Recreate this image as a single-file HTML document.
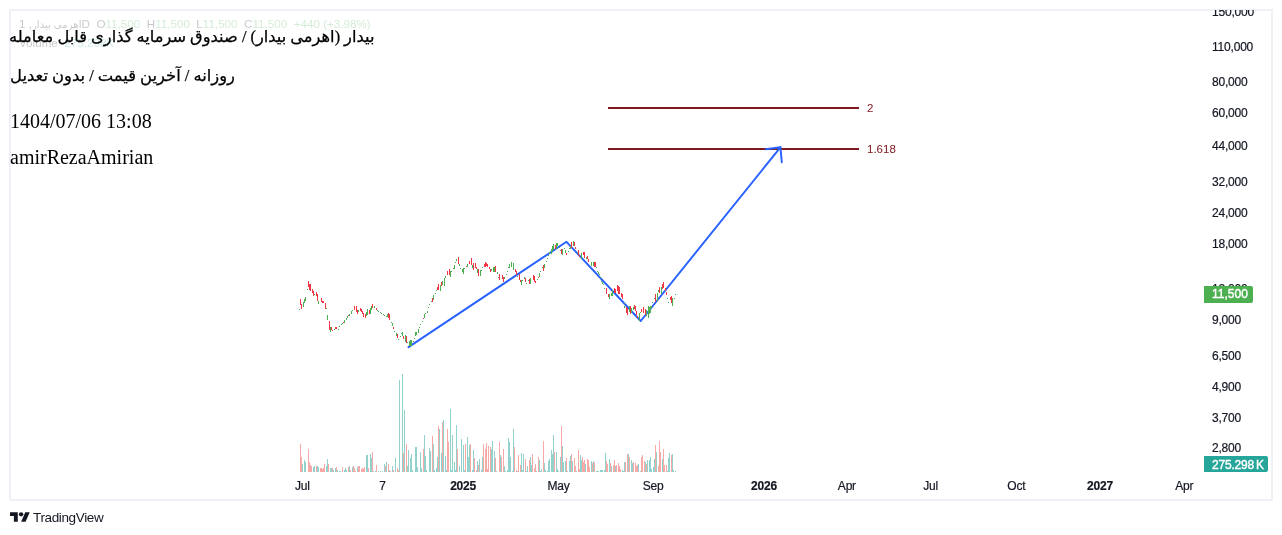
<!DOCTYPE html>
<html lang="fa">
<head>
<meta charset="utf-8">
<title>TradingView Chart</title>
<style>
html,body{margin:0;padding:0;background:#fff;}
body{width:1282px;height:535px;position:relative;overflow:hidden;font-family:"Liberation Sans","DejaVu Sans",sans-serif;}
.frame{position:absolute;left:9px;top:9px;width:1260px;height:488px;border:2px solid #eff1f7;box-sizing:content-box;overflow:hidden;}
.chart{position:absolute;left:0;top:0;}
.clip{position:absolute;left:0;top:10px;width:1282px;height:490px;overflow:hidden;}
.clip .inner{position:absolute;left:0;top:-10px;width:1282px;height:535px;}
.pl{-webkit-text-stroke:0.2px #131722;position:absolute;left:1212px;height:16px;line-height:16px;font-size:12px;letter-spacing:-0.2px;color:#131722;white-space:nowrap;}
.tl{-webkit-text-stroke:0.2px #131722;position:absolute;top:478px;width:60px;text-align:center;height:16px;line-height:16px;font-size:12px;letter-spacing:-0.2px;color:#131722;white-space:nowrap;}
.tl.b{font-weight:bold;}
.tag{position:absolute;left:1204px;color:#fff;font-size:12px;letter-spacing:-0.2px;font-weight:normal;-webkit-text-stroke:0.4px #fff;overflow:hidden;white-space:nowrap;box-sizing:border-box;padding-left:8px;}
.tag.price{letter-spacing:0;top:286px;width:49px;height:17px;line-height:17px;background:#4caf50;border-radius:0 2px 2px 0;}
.tag.vol{top:456px;width:64px;height:16px;line-height:16px;padding-top:1px;background:#26a69a;padding-left:8px;border-radius:0 2px 2px 0;}
.fib{position:absolute;font-size:11.5px;color:#801922;height:14px;line-height:14px;white-space:nowrap;}
.legend{position:absolute;left:19px;font-size:11.65px;color:#131722;opacity:.24;white-space:nowrap;height:16px;line-height:16px;}
.legend .g{color:#4caf50;}
.legend .t{color:#26a69a;}
.ttl{position:absolute;left:10px;margin:0;font-family:"Liberation Serif","DejaVu Sans",serif;color:#000;white-space:nowrap;}
.fa{direction:rtl;unicode-bidi:embed;font-size:16.35px;-webkit-text-stroke:0.25px #000;}
.en{font-size:20px;}
.logo{position:absolute;left:10px;top:508px;height:18px;display:flex;align-items:center;color:#131722;}
.logo span{font-size:13.5px;margin-left:3px;letter-spacing:-0.36px;}
</style>
</head>
<body>
<div class="frame"></div>
<div class="clip"><div class="inner">
<div class="legend" style="top:16px"><span style="font-size:10.2px">اهرمی بیدار</span>, 1D&nbsp; O<span class="g">11,500</span>&nbsp; H<span class="g">11,500</span>&nbsp; L<span class="g">11,500</span>&nbsp; C<span class="g">11,500</span>&nbsp; <span class="g">+440 (+3.98%)</span></div>
<div class="legend" style="top:35px">Volume&nbsp; <span class="t">275.298K</span></div>
<svg class="chart" width="1282" height="535" viewBox="0 0 1282 535">
<g shape-rendering="crispEdges">
<rect x="300" y="444" width="1" height="28" fill="#f7a9a7"/><rect x="301" y="457" width="1" height="15" fill="#f7a9a7"/><rect x="302" y="464" width="1" height="8" fill="#92d2cc"/><rect x="304" y="460" width="1" height="12" fill="#92d2cc"/><rect x="305" y="462" width="1" height="10" fill="#92d2cc"/><rect x="308" y="449" width="1" height="23" fill="#f7a9a7"/><rect x="309" y="462" width="1" height="10" fill="#f7a9a7"/><rect x="310" y="465" width="1" height="7" fill="#f7a9a7"/><rect x="311" y="466" width="1" height="6" fill="#f7a9a7"/><rect x="313" y="467" width="1" height="5" fill="#92d2cc"/><rect x="314" y="466" width="1" height="6" fill="#92d2cc"/><rect x="316" y="466" width="1" height="6" fill="#f7a9a7"/><rect x="317" y="466" width="1" height="6" fill="#92d2cc"/><rect x="318" y="467" width="1" height="5" fill="#92d2cc"/><rect x="320" y="468" width="1" height="4" fill="#f7a9a7"/><rect x="321" y="468" width="1" height="4" fill="#f7a9a7"/><rect x="322" y="469" width="1" height="3" fill="#f7a9a7"/><rect x="323" y="468" width="1" height="4" fill="#f7a9a7"/><rect x="324" y="464" width="1" height="8" fill="#f7a9a7"/><rect x="326" y="466" width="1" height="6" fill="#92d2cc"/><rect x="327" y="459" width="1" height="13" fill="#92d2cc"/><rect x="328" y="464" width="1" height="8" fill="#f7a9a7"/><rect x="330" y="468" width="1" height="4" fill="#92d2cc"/><rect x="331" y="468" width="1" height="4" fill="#92d2cc"/><rect x="332" y="468" width="1" height="4" fill="#f7a9a7"/><rect x="333" y="470" width="1" height="2" fill="#92d2cc"/><rect x="335" y="468" width="1" height="4" fill="#92d2cc"/><rect x="336" y="467" width="1" height="5" fill="#f7a9a7"/><rect x="337" y="470" width="1" height="2" fill="#92d2cc"/><rect x="339" y="471" width="1" height="1" fill="#92d2cc"/><rect x="340" y="471" width="1" height="1" fill="#92d2cc"/><rect x="342" y="467" width="1" height="5" fill="#f7a9a7"/><rect x="344" y="470" width="1" height="2" fill="#92d2cc"/><rect x="345" y="468" width="1" height="4" fill="#92d2cc"/><rect x="346" y="470" width="1" height="2" fill="#92d2cc"/><rect x="348" y="467" width="1" height="5" fill="#f7a9a7"/><rect x="349" y="466" width="1" height="6" fill="#92d2cc"/><rect x="350" y="470" width="1" height="2" fill="#f7a9a7"/><rect x="352" y="467" width="1" height="5" fill="#92d2cc"/><rect x="353" y="466" width="1" height="6" fill="#f7a9a7"/><rect x="354" y="468" width="1" height="4" fill="#f7a9a7"/><rect x="355" y="471" width="1" height="1" fill="#f7a9a7"/><rect x="357" y="467" width="1" height="5" fill="#92d2cc"/><rect x="358" y="466" width="1" height="6" fill="#f7a9a7"/><rect x="359" y="466" width="1" height="6" fill="#f7a9a7"/><rect x="361" y="469" width="1" height="3" fill="#f7a9a7"/><rect x="362" y="468" width="1" height="4" fill="#f7a9a7"/><rect x="363" y="469" width="1" height="3" fill="#f7a9a7"/><rect x="364" y="467" width="1" height="5" fill="#f7a9a7"/><rect x="366" y="455" width="1" height="17" fill="#92d2cc"/><rect x="367" y="455" width="1" height="17" fill="#92d2cc"/><rect x="368" y="468" width="1" height="4" fill="#f7a9a7"/><rect x="370" y="454" width="1" height="18" fill="#92d2cc"/><rect x="371" y="458" width="1" height="14" fill="#92d2cc"/><rect x="372" y="452" width="1" height="20" fill="#f7a9a7"/><rect x="373" y="471" width="1" height="1" fill="#92d2cc"/><rect x="375" y="471" width="1" height="1" fill="#92d2cc"/><rect x="376" y="465" width="1" height="7" fill="#f7a9a7"/><rect x="378" y="471" width="1" height="1" fill="#92d2cc"/><rect x="380" y="471" width="1" height="1" fill="#92d2cc"/><rect x="382" y="471" width="1" height="1" fill="#92d2cc"/><rect x="384" y="464" width="1" height="8" fill="#92d2cc"/><rect x="385" y="466" width="1" height="6" fill="#f7a9a7"/><rect x="386" y="462" width="1" height="10" fill="#92d2cc"/><rect x="388" y="464" width="1" height="8" fill="#f7a9a7"/><rect x="389" y="470" width="1" height="2" fill="#92d2cc"/><rect x="390" y="471" width="1" height="1" fill="#f7a9a7"/><rect x="392" y="466" width="1" height="6" fill="#92d2cc"/><rect x="393" y="470" width="1" height="2" fill="#f7a9a7"/><rect x="395" y="458" width="1" height="14" fill="#92d2cc"/><rect x="397" y="468" width="1" height="4" fill="#f7a9a7"/><rect x="398" y="470" width="1" height="2" fill="#f7a9a7"/><rect x="399" y="380" width="1" height="92" fill="#92d2cc"/><rect x="402" y="374" width="1" height="98" fill="#92d2cc"/><rect x="403" y="453" width="1" height="19" fill="#f7a9a7"/><rect x="404" y="410" width="1" height="62" fill="#92d2cc"/><rect x="406" y="444" width="1" height="28" fill="#f7a9a7"/><rect x="407" y="466" width="1" height="6" fill="#92d2cc"/><rect x="408" y="450" width="1" height="22" fill="#92d2cc"/><rect x="410" y="458" width="1" height="14" fill="#92d2cc"/><rect x="411" y="454" width="1" height="18" fill="#92d2cc"/><rect x="412" y="470" width="1" height="2" fill="#92d2cc"/><rect x="415" y="447" width="1" height="25" fill="#92d2cc"/><rect x="416" y="447" width="1" height="25" fill="#92d2cc"/><rect x="417" y="467" width="1" height="5" fill="#92d2cc"/><rect x="420" y="452" width="1" height="20" fill="#92d2cc"/><rect x="421" y="468" width="1" height="4" fill="#92d2cc"/><rect x="423" y="449" width="1" height="23" fill="#f7a9a7"/><rect x="424" y="435" width="1" height="37" fill="#92d2cc"/><rect x="425" y="456" width="1" height="16" fill="#92d2cc"/><rect x="426" y="470" width="1" height="2" fill="#92d2cc"/><rect x="429" y="448" width="1" height="24" fill="#92d2cc"/><rect x="430" y="451" width="1" height="21" fill="#92d2cc"/><rect x="432" y="436" width="1" height="36" fill="#f7a9a7"/><rect x="433" y="444" width="1" height="28" fill="#92d2cc"/><rect x="434" y="470" width="1" height="2" fill="#92d2cc"/><rect x="436" y="468" width="1" height="4" fill="#92d2cc"/><rect x="437" y="457" width="1" height="15" fill="#92d2cc"/><rect x="438" y="426" width="1" height="46" fill="#f7a9a7"/><rect x="439" y="429" width="1" height="43" fill="#92d2cc"/><rect x="441" y="453" width="1" height="19" fill="#92d2cc"/><rect x="442" y="422" width="1" height="50" fill="#f7a9a7"/><rect x="443" y="420" width="1" height="52" fill="#92d2cc"/><rect x="445" y="456" width="1" height="16" fill="#92d2cc"/><rect x="446" y="470" width="1" height="2" fill="#92d2cc"/><rect x="447" y="429" width="1" height="43" fill="#f7a9a7"/><rect x="448" y="442" width="1" height="30" fill="#f7a9a7"/><rect x="450" y="409" width="1" height="63" fill="#92d2cc"/><rect x="451" y="470" width="1" height="2" fill="#92d2cc"/><rect x="452" y="435" width="1" height="37" fill="#92d2cc"/><rect x="454" y="462" width="1" height="10" fill="#92d2cc"/><rect x="455" y="470" width="1" height="2" fill="#92d2cc"/><rect x="456" y="425" width="1" height="47" fill="#92d2cc"/><rect x="457" y="449" width="1" height="23" fill="#f7a9a7"/><rect x="459" y="466" width="1" height="6" fill="#92d2cc"/><rect x="461" y="439" width="1" height="33" fill="#92d2cc"/><rect x="463" y="445" width="1" height="27" fill="#92d2cc"/><rect x="464" y="470" width="1" height="2" fill="#92d2cc"/><rect x="465" y="444" width="1" height="28" fill="#f7a9a7"/><rect x="467" y="437" width="1" height="35" fill="#92d2cc"/><rect x="468" y="457" width="1" height="15" fill="#92d2cc"/><rect x="469" y="445" width="1" height="27" fill="#92d2cc"/><rect x="470" y="444" width="1" height="28" fill="#f7a9a7"/><rect x="472" y="470" width="1" height="2" fill="#92d2cc"/><rect x="473" y="450" width="1" height="22" fill="#92d2cc"/><rect x="474" y="458" width="1" height="14" fill="#f7a9a7"/><rect x="476" y="470" width="1" height="2" fill="#f7a9a7"/><rect x="477" y="461" width="1" height="11" fill="#92d2cc"/><rect x="478" y="465" width="1" height="7" fill="#f7a9a7"/><rect x="479" y="459" width="1" height="13" fill="#92d2cc"/><rect x="481" y="470" width="1" height="2" fill="#92d2cc"/><rect x="482" y="457" width="1" height="15" fill="#92d2cc"/><rect x="483" y="444" width="1" height="28" fill="#f7a9a7"/><rect x="485" y="449" width="1" height="23" fill="#f7a9a7"/><rect x="486" y="443" width="1" height="29" fill="#f7a9a7"/><rect x="487" y="469" width="1" height="3" fill="#f7a9a7"/><rect x="488" y="446" width="1" height="26" fill="#f7a9a7"/><rect x="490" y="447" width="1" height="25" fill="#f7a9a7"/><rect x="491" y="449" width="1" height="23" fill="#92d2cc"/><rect x="492" y="441" width="1" height="31" fill="#92d2cc"/><rect x="494" y="451" width="1" height="21" fill="#92d2cc"/><rect x="495" y="458" width="1" height="14" fill="#f7a9a7"/><rect x="496" y="471" width="1" height="1" fill="#92d2cc"/><rect x="499" y="442" width="1" height="30" fill="#f7a9a7"/><rect x="500" y="455" width="1" height="17" fill="#92d2cc"/><rect x="501" y="457" width="1" height="15" fill="#f7a9a7"/><rect x="503" y="449" width="1" height="23" fill="#f7a9a7"/><rect x="504" y="466" width="1" height="6" fill="#92d2cc"/><rect x="505" y="471" width="1" height="1" fill="#92d2cc"/><rect x="507" y="470" width="1" height="2" fill="#92d2cc"/><rect x="508" y="438" width="1" height="34" fill="#92d2cc"/><rect x="509" y="442" width="1" height="30" fill="#92d2cc"/><rect x="510" y="457" width="1" height="15" fill="#92d2cc"/><rect x="512" y="471" width="1" height="1" fill="#92d2cc"/><rect x="513" y="429" width="1" height="43" fill="#92d2cc"/><rect x="514" y="447" width="1" height="25" fill="#f7a9a7"/><rect x="516" y="470" width="1" height="2" fill="#f7a9a7"/><rect x="517" y="471" width="1" height="1" fill="#92d2cc"/><rect x="518" y="455" width="1" height="17" fill="#f7a9a7"/><rect x="520" y="465" width="1" height="7" fill="#f7a9a7"/><rect x="521" y="453" width="1" height="19" fill="#92d2cc"/><rect x="522" y="470" width="1" height="2" fill="#92d2cc"/><rect x="523" y="454" width="1" height="18" fill="#92d2cc"/><rect x="525" y="459" width="1" height="13" fill="#f7a9a7"/><rect x="526" y="471" width="1" height="1" fill="#92d2cc"/><rect x="527" y="466" width="1" height="6" fill="#92d2cc"/><rect x="529" y="460" width="1" height="12" fill="#f7a9a7"/><rect x="530" y="457" width="1" height="15" fill="#92d2cc"/><rect x="531" y="465" width="1" height="7" fill="#92d2cc"/><rect x="532" y="454" width="1" height="18" fill="#f7a9a7"/><rect x="534" y="468" width="1" height="4" fill="#f7a9a7"/><rect x="535" y="464" width="1" height="8" fill="#f7a9a7"/><rect x="536" y="471" width="1" height="1" fill="#92d2cc"/><rect x="538" y="457" width="1" height="15" fill="#f7a9a7"/><rect x="539" y="460" width="1" height="12" fill="#92d2cc"/><rect x="540" y="471" width="1" height="1" fill="#92d2cc"/><rect x="541" y="469" width="1" height="3" fill="#92d2cc"/><rect x="543" y="441" width="1" height="31" fill="#f7a9a7"/><rect x="544" y="463" width="1" height="9" fill="#92d2cc"/><rect x="545" y="470" width="1" height="2" fill="#92d2cc"/><rect x="547" y="471" width="1" height="1" fill="#92d2cc"/><rect x="548" y="461" width="1" height="11" fill="#92d2cc"/><rect x="549" y="459" width="1" height="13" fill="#92d2cc"/><rect x="551" y="450" width="1" height="22" fill="#92d2cc"/><rect x="552" y="454" width="1" height="18" fill="#92d2cc"/><rect x="553" y="435" width="1" height="37" fill="#92d2cc"/><rect x="554" y="452" width="1" height="20" fill="#f7a9a7"/><rect x="556" y="452" width="1" height="20" fill="#92d2cc"/><rect x="557" y="469" width="1" height="3" fill="#92d2cc"/><rect x="558" y="471" width="1" height="1" fill="#92d2cc"/><rect x="560" y="457" width="1" height="15" fill="#92d2cc"/><rect x="561" y="426" width="1" height="46" fill="#f7a9a7"/><rect x="562" y="446" width="1" height="26" fill="#92d2cc"/><rect x="563" y="462" width="1" height="10" fill="#92d2cc"/><rect x="565" y="461" width="1" height="11" fill="#92d2cc"/><rect x="566" y="458" width="1" height="14" fill="#f7a9a7"/><rect x="567" y="471" width="1" height="1" fill="#92d2cc"/><rect x="569" y="461" width="1" height="11" fill="#92d2cc"/><rect x="570" y="456" width="1" height="16" fill="#92d2cc"/><rect x="571" y="454" width="1" height="18" fill="#f7a9a7"/><rect x="572" y="461" width="1" height="11" fill="#92d2cc"/><rect x="574" y="458" width="1" height="14" fill="#f7a9a7"/><rect x="575" y="466" width="1" height="6" fill="#f7a9a7"/><rect x="576" y="471" width="1" height="1" fill="#92d2cc"/><rect x="578" y="450" width="1" height="22" fill="#f7a9a7"/><rect x="579" y="469" width="1" height="3" fill="#f7a9a7"/><rect x="580" y="455" width="1" height="17" fill="#92d2cc"/><rect x="581" y="460" width="1" height="12" fill="#92d2cc"/><rect x="582" y="457" width="1" height="15" fill="#f7a9a7"/><rect x="583" y="462" width="1" height="10" fill="#f7a9a7"/><rect x="584" y="460" width="1" height="12" fill="#f7a9a7"/><rect x="585" y="464" width="1" height="8" fill="#92d2cc"/><rect x="587" y="459" width="1" height="13" fill="#f7a9a7"/><rect x="588" y="460" width="1" height="12" fill="#f7a9a7"/><rect x="589" y="467" width="1" height="5" fill="#f7a9a7"/><rect x="591" y="461" width="1" height="11" fill="#92d2cc"/><rect x="592" y="463" width="1" height="9" fill="#f7a9a7"/><rect x="593" y="461" width="1" height="11" fill="#92d2cc"/><rect x="594" y="462" width="1" height="10" fill="#f7a9a7"/><rect x="596" y="471" width="1" height="1" fill="#92d2cc"/><rect x="597" y="471" width="1" height="1" fill="#92d2cc"/><rect x="598" y="471" width="1" height="1" fill="#92d2cc"/><rect x="600" y="470" width="1" height="2" fill="#92d2cc"/><rect x="601" y="470" width="1" height="2" fill="#92d2cc"/><rect x="602" y="470" width="1" height="2" fill="#92d2cc"/><rect x="604" y="470" width="1" height="2" fill="#92d2cc"/><rect x="605" y="453" width="1" height="19" fill="#92d2cc"/><rect x="606" y="461" width="1" height="11" fill="#f7a9a7"/><rect x="607" y="464" width="1" height="8" fill="#f7a9a7"/><rect x="609" y="459" width="1" height="13" fill="#92d2cc"/><rect x="610" y="463" width="1" height="9" fill="#f7a9a7"/><rect x="611" y="466" width="1" height="6" fill="#92d2cc"/><rect x="613" y="465" width="1" height="7" fill="#f7a9a7"/><rect x="614" y="460" width="1" height="12" fill="#f7a9a7"/><rect x="615" y="466" width="1" height="6" fill="#92d2cc"/><rect x="616" y="465" width="1" height="7" fill="#f7a9a7"/><rect x="618" y="463" width="1" height="9" fill="#f7a9a7"/><rect x="619" y="466" width="1" height="6" fill="#f7a9a7"/><rect x="620" y="469" width="1" height="3" fill="#f7a9a7"/><rect x="622" y="470" width="1" height="2" fill="#92d2cc"/><rect x="623" y="471" width="1" height="1" fill="#92d2cc"/><rect x="624" y="462" width="1" height="10" fill="#92d2cc"/><rect x="625" y="462" width="1" height="10" fill="#f7a9a7"/><rect x="627" y="454" width="1" height="18" fill="#f7a9a7"/><rect x="628" y="454" width="1" height="18" fill="#92d2cc"/><rect x="629" y="457" width="1" height="15" fill="#f7a9a7"/><rect x="631" y="460" width="1" height="12" fill="#92d2cc"/><rect x="632" y="463" width="1" height="9" fill="#92d2cc"/><rect x="633" y="462" width="1" height="10" fill="#f7a9a7"/><rect x="635" y="463" width="1" height="9" fill="#f7a9a7"/><rect x="636" y="466" width="1" height="6" fill="#f7a9a7"/><rect x="637" y="465" width="1" height="7" fill="#f7a9a7"/><rect x="638" y="464" width="1" height="8" fill="#92d2cc"/><rect x="640" y="471" width="1" height="1" fill="#92d2cc"/><rect x="641" y="457" width="1" height="15" fill="#f7a9a7"/><rect x="642" y="455" width="1" height="17" fill="#f7a9a7"/><rect x="644" y="461" width="1" height="11" fill="#f7a9a7"/><rect x="645" y="462" width="1" height="10" fill="#92d2cc"/><rect x="646" y="464" width="1" height="8" fill="#f7a9a7"/><rect x="647" y="460" width="1" height="12" fill="#92d2cc"/><rect x="649" y="460" width="1" height="12" fill="#92d2cc"/><rect x="650" y="457" width="1" height="15" fill="#92d2cc"/><rect x="651" y="469" width="1" height="3" fill="#92d2cc"/><rect x="653" y="467" width="1" height="5" fill="#92d2cc"/><rect x="654" y="459" width="1" height="13" fill="#92d2cc"/><rect x="655" y="445" width="1" height="27" fill="#f7a9a7"/><rect x="656" y="452" width="1" height="20" fill="#92d2cc"/><rect x="658" y="466" width="1" height="6" fill="#f7a9a7"/><rect x="659" y="441" width="1" height="31" fill="#f7a9a7"/><rect x="660" y="452" width="1" height="20" fill="#f7a9a7"/><rect x="662" y="459" width="1" height="13" fill="#92d2cc"/><rect x="663" y="449" width="1" height="23" fill="#f7a9a7"/><rect x="664" y="465" width="1" height="7" fill="#f7a9a7"/><rect x="666" y="465" width="1" height="7" fill="#f7a9a7"/><rect x="667" y="471" width="1" height="1" fill="#92d2cc"/><rect x="668" y="458" width="1" height="14" fill="#92d2cc"/><rect x="669" y="453" width="1" height="19" fill="#92d2cc"/><rect x="671" y="455" width="1" height="17" fill="#f7a9a7"/><rect x="672" y="454" width="1" height="18" fill="#92d2cc"/><rect x="673" y="470" width="1" height="2" fill="#92d2cc"/><rect x="675" y="471" width="1" height="1" fill="#92d2cc"/>
</g>
<g shape-rendering="crispEdges" fill="#801922">
<rect x="608" y="107" width="251" height="2"/>
<rect x="608" y="148" width="251" height="2"/>
</g>
<g fill="none" stroke="#2962ff" stroke-width="1.95" stroke-linecap="round" stroke-linejoin="round">
<polyline points="408.5,347.1 566.5,241.8 640.7,321 780.4,147.3"/>
<polyline points="765.8,149.3 780.4,147.3 781.8,162.2"/>
</g>
<g shape-rendering="crispEdges">
<rect x="299" y="309" width="1" height="1" fill="#4caf50"/><rect x="300" y="299" width="1" height="6" fill="#f23645"/><rect x="301" y="304" width="1" height="5" fill="#f23645"/><rect x="303" y="302" width="1" height="5" fill="#4caf50"/><rect x="304" y="299" width="1" height="4" fill="#4caf50"/><rect x="305" y="297" width="1" height="4" fill="#4caf50"/><rect x="307" y="289" width="1" height="1" fill="#4caf50"/><rect x="591" y="262" width="1" height="4" fill="#4caf50"/><rect x="593" y="262" width="1" height="4" fill="#4caf50"/><rect x="594" y="262" width="1" height="5" fill="#f23645"/><rect x="595" y="262" width="1" height="5" fill="#f23645"/><rect x="606" y="288" width="1" height="6" fill="#f23645"/><rect x="608" y="294" width="1" height="3" fill="#f23645"/><rect x="609" y="294" width="1" height="5" fill="#4caf50"/><rect x="611" y="293" width="1" height="3" fill="#4caf50"/><rect x="612" y="290" width="1" height="6" fill="#4caf50"/><rect x="614" y="288" width="1" height="5" fill="#f23645"/><rect x="615" y="289" width="1" height="4" fill="#f23645"/><rect x="617" y="285" width="1" height="6" fill="#f23645"/><rect x="618" y="286" width="1" height="8" fill="#f23645"/><rect x="619" y="287" width="1" height="7" fill="#f23645"/><rect x="621" y="293" width="1" height="4" fill="#f23645"/><rect x="622" y="294" width="1" height="5" fill="#f23645"/><rect x="624" y="303" width="1" height="1" fill="#4caf50"/><rect x="624" y="306" width="1" height="2" fill="#4caf50"/><rect x="626" y="307" width="1" height="6" fill="#f23645"/><rect x="627" y="308" width="1" height="7" fill="#f23645"/><rect x="629" y="306" width="1" height="6" fill="#4caf50"/><rect x="630" y="306" width="1" height="8" fill="#f23645"/><rect x="631" y="308" width="1" height="5" fill="#4caf50"/><rect x="633" y="307" width="1" height="3" fill="#4caf50"/><rect x="634" y="305" width="1" height="4" fill="#f23645"/><rect x="635" y="306" width="1" height="5" fill="#f23645"/><rect x="636" y="311" width="1" height="4" fill="#f23645"/><rect x="637" y="316" width="1" height="2" fill="#f23645"/><rect x="639" y="313" width="1" height="8" fill="#4caf50"/><rect x="640" y="312" width="1" height="1" fill="#4caf50"/><rect x="641" y="309" width="1" height="3" fill="#f23645"/><rect x="643" y="307" width="1" height="6" fill="#f23645"/><rect x="645" y="309" width="1" height="6" fill="#f23645"/><rect x="646" y="310" width="1" height="6" fill="#4caf50"/><rect x="648" y="306" width="1" height="12" fill="#4caf50"/><rect x="649" y="307" width="1" height="7" fill="#4caf50"/><rect x="650" y="306" width="1" height="7" fill="#4caf50"/><rect x="651" y="306" width="1" height="2" fill="#4caf50"/><rect x="652" y="302" width="1" height="1" fill="#4caf50"/><rect x="654" y="298" width="1" height="1" fill="#4caf50"/><rect x="655" y="294" width="1" height="8" fill="#f23645"/><rect x="657" y="293" width="1" height="8" fill="#4caf50"/><rect x="658" y="290" width="1" height="2" fill="#4caf50"/><rect x="659" y="287" width="1" height="6" fill="#f23645"/><rect x="661" y="287" width="1" height="7" fill="#4caf50"/><rect x="662" y="284" width="1" height="5" fill="#f23645"/><rect x="663" y="282" width="1" height="6" fill="#f23645"/><rect x="665" y="288" width="1" height="3" fill="#f23645"/><rect x="666" y="292" width="1" height="3" fill="#f23645"/><rect x="667" y="298" width="1" height="1" fill="#4caf50"/><rect x="668" y="302" width="1" height="1" fill="#4caf50"/><rect x="670" y="297" width="1" height="3" fill="#f23645"/><rect x="671" y="296" width="1" height="7" fill="#f23645"/><rect x="672" y="298" width="1" height="8" fill="#4caf50"/><rect x="674" y="298" width="1" height="1" fill="#4caf50"/><rect x="675" y="294" width="1" height="1" fill="#4caf50"/><rect x="391" y="322" width="1" height="1" fill="#4caf50"/><rect x="392" y="323" width="1" height="3" fill="#4caf50"/><rect x="393" y="327" width="1" height="2" fill="#f23645"/><rect x="394" y="331" width="1" height="1" fill="#4caf50"/><rect x="396" y="333" width="1" height="3" fill="#4caf50"/><rect x="397" y="334" width="1" height="4" fill="#f23645"/><rect x="398" y="339" width="1" height="1" fill="#4caf50"/><rect x="400" y="336" width="1" height="1" fill="#4caf50"/><rect x="401" y="333" width="1" height="1" fill="#4caf50"/><rect x="402" y="332" width="1" height="4" fill="#4caf50"/><rect x="403" y="336" width="1" height="3" fill="#f23645"/><rect x="405" y="335" width="1" height="7" fill="#4caf50"/><rect x="406" y="336" width="1" height="7" fill="#f23645"/><rect x="407" y="342" width="1" height="1" fill="#4caf50"/><rect x="409" y="341" width="1" height="5" fill="#4caf50"/><rect x="410" y="340" width="1" height="6" fill="#4caf50"/><rect x="411" y="340" width="1" height="6" fill="#4caf50"/><rect x="413" y="341" width="1" height="1" fill="#4caf50"/><rect x="414" y="338" width="1" height="1" fill="#4caf50"/><rect x="415" y="332" width="1" height="4" fill="#4caf50"/><rect x="416" y="332" width="1" height="3" fill="#4caf50"/><rect x="418" y="329" width="1" height="4" fill="#4caf50"/><rect x="419" y="327" width="1" height="1" fill="#4caf50"/><rect x="308" y="281" width="1" height="6" fill="#f23645"/><rect x="309" y="284" width="1" height="6" fill="#f23645"/><rect x="310" y="284" width="1" height="7" fill="#f23645"/><rect x="312" y="289" width="1" height="4" fill="#f23645"/><rect x="313" y="291" width="1" height="5" fill="#f23645"/><rect x="314" y="294" width="1" height="1" fill="#4caf50"/><rect x="316" y="292" width="1" height="4" fill="#f23645"/><rect x="317" y="294" width="1" height="7" fill="#f23645"/><rect x="318" y="301" width="1" height="3" fill="#4caf50"/><rect x="321" y="298" width="1" height="4" fill="#f23645"/><rect x="322" y="301" width="1" height="2" fill="#f23645"/><rect x="323" y="301" width="1" height="2" fill="#f23645"/><rect x="325" y="303" width="1" height="6" fill="#f23645"/><rect x="326" y="308" width="1" height="1" fill="#4caf50"/><rect x="327" y="315" width="1" height="5" fill="#4caf50"/><rect x="329" y="321" width="1" height="9" fill="#f23645"/><rect x="330" y="327" width="1" height="5" fill="#4caf50"/><rect x="331" y="327" width="1" height="3" fill="#f23645"/><rect x="332" y="330" width="1" height="1" fill="#f23645"/><rect x="334" y="329" width="1" height="1" fill="#4caf50"/><rect x="335" y="327" width="1" height="2" fill="#f23645"/><rect x="336" y="327" width="1" height="2" fill="#f23645"/><rect x="338" y="329" width="1" height="1" fill="#4caf50"/><rect x="339" y="326" width="1" height="1" fill="#4caf50"/><rect x="341" y="324" width="1" height="1" fill="#4caf50"/><rect x="342" y="323" width="1" height="1" fill="#4caf50"/><rect x="343" y="322" width="1" height="1" fill="#f23645"/><rect x="344" y="320" width="1" height="3" fill="#4caf50"/><rect x="346" y="318" width="1" height="2" fill="#4caf50"/><rect x="347" y="316" width="1" height="2" fill="#4caf50"/><rect x="348" y="315" width="1" height="1" fill="#f23645"/><rect x="349" y="314" width="1" height="2" fill="#4caf50"/><rect x="351" y="311" width="1" height="3" fill="#4caf50"/><rect x="352" y="310" width="1" height="1" fill="#4caf50"/><rect x="354" y="307" width="1" height="3" fill="#f23645"/><rect x="354" y="306" width="1" height="4" fill="#f23645"/><rect x="356" y="306" width="1" height="6" fill="#f23645"/><rect x="357" y="310" width="1" height="4" fill="#f23645"/><rect x="358" y="310" width="1" height="2" fill="#4caf50"/><rect x="360" y="308" width="1" height="3" fill="#f23645"/><rect x="361" y="309" width="1" height="3" fill="#f23645"/><rect x="362" y="311" width="1" height="3" fill="#f23645"/><rect x="363" y="313" width="1" height="4" fill="#f23645"/><rect x="365" y="314" width="1" height="4" fill="#f23645"/><rect x="366" y="312" width="1" height="4" fill="#4caf50"/><rect x="367" y="309" width="1" height="6" fill="#4caf50"/><rect x="369" y="310" width="1" height="4" fill="#f23645"/><rect x="370" y="308" width="1" height="6" fill="#4caf50"/><rect x="371" y="306" width="1" height="4" fill="#4caf50"/><rect x="372" y="304" width="1" height="4" fill="#f23645"/><rect x="374" y="306" width="1" height="2" fill="#4caf50"/><rect x="376" y="308" width="1" height="2" fill="#f23645"/><rect x="387" y="314" width="1" height="3" fill="#4caf50"/><rect x="388" y="313" width="1" height="5" fill="#f23645"/><rect x="389" y="314" width="1" height="6" fill="#f23645"/><rect x="377" y="310" width="1" height="1" fill="#4caf50"/><rect x="378" y="311" width="1" height="1" fill="#4caf50"/><rect x="380" y="312" width="1" height="1" fill="#4caf50"/><rect x="381" y="313" width="1" height="1" fill="#4caf50"/><rect x="383" y="314" width="1" height="1" fill="#4caf50"/><rect x="384" y="315" width="1" height="1" fill="#4caf50"/><rect x="386" y="316" width="1" height="1" fill="#4caf50"/><rect x="420" y="324" width="1" height="1" fill="#4caf50"/><rect x="422" y="321" width="1" height="1" fill="#4caf50"/><rect x="423" y="318" width="1" height="1" fill="#f23645"/><rect x="424" y="314" width="1" height="4" fill="#4caf50"/><rect x="425" y="313" width="1" height="1" fill="#4caf50"/><rect x="427" y="311" width="1" height="2" fill="#4caf50"/><rect x="428" y="307" width="1" height="1" fill="#4caf50"/><rect x="429" y="304" width="1" height="1" fill="#4caf50"/><rect x="431" y="301" width="1" height="1" fill="#4caf50"/><rect x="432" y="298" width="1" height="4" fill="#f23645"/><rect x="433" y="295" width="1" height="5" fill="#4caf50"/><rect x="435" y="293" width="1" height="1" fill="#4caf50"/><rect x="436" y="290" width="1" height="1" fill="#4caf50"/><rect x="437" y="287" width="1" height="3" fill="#f23645"/><rect x="438" y="284" width="1" height="6" fill="#f23645"/><rect x="440" y="285" width="1" height="6" fill="#4caf50"/><rect x="441" y="282" width="1" height="4" fill="#f23645"/><rect x="442" y="281" width="1" height="4" fill="#4caf50"/><rect x="444" y="278" width="1" height="8" fill="#4caf50"/><rect x="445" y="276" width="1" height="2" fill="#4caf50"/><rect x="447" y="271" width="1" height="4" fill="#f23645"/><rect x="449" y="269" width="1" height="6" fill="#f23645"/><rect x="450" y="271" width="1" height="6" fill="#4caf50"/><rect x="451" y="271" width="1" height="1" fill="#4caf50"/><rect x="453" y="268" width="1" height="1" fill="#4caf50"/><rect x="454" y="265" width="1" height="4" fill="#4caf50"/><rect x="455" y="262" width="1" height="1" fill="#4caf50"/><rect x="456" y="259" width="1" height="2" fill="#4caf50"/><rect x="458" y="257" width="1" height="7" fill="#f23645"/><rect x="459" y="264" width="1" height="2" fill="#4caf50"/><rect x="460" y="268" width="1" height="1" fill="#4caf50"/><rect x="462" y="269" width="1" height="3" fill="#4caf50"/><rect x="463" y="268" width="1" height="6" fill="#4caf50"/><rect x="464" y="268" width="1" height="1" fill="#4caf50"/><rect x="466" y="266" width="1" height="1" fill="#f23645"/><rect x="467" y="264" width="1" height="3" fill="#4caf50"/><rect x="469" y="262" width="1" height="1" fill="#4caf50"/><rect x="469" y="261" width="1" height="3" fill="#f23645"/><rect x="471" y="258" width="1" height="7" fill="#f23645"/><rect x="472" y="265" width="1" height="3" fill="#4caf50"/><rect x="473" y="263" width="1" height="7" fill="#f23645"/><rect x="546" y="261" width="1" height="1" fill="#4caf50"/><rect x="547" y="258" width="1" height="1" fill="#4caf50"/><rect x="548" y="255" width="1" height="1" fill="#4caf50"/><rect x="549" y="252" width="1" height="2" fill="#4caf50"/><rect x="551" y="249" width="1" height="5" fill="#4caf50"/><rect x="552" y="246" width="1" height="5" fill="#4caf50"/><rect x="553" y="244" width="1" height="6" fill="#4caf50"/><rect x="555" y="245" width="1" height="4" fill="#f23645"/><rect x="556" y="243" width="1" height="6" fill="#4caf50"/><rect x="557" y="243" width="1" height="3" fill="#4caf50"/><rect x="559" y="247" width="1" height="1" fill="#4caf50"/><rect x="560" y="250" width="1" height="1" fill="#4caf50"/><rect x="561" y="249" width="1" height="5" fill="#f23645"/><rect x="562" y="249" width="1" height="6" fill="#4caf50"/><rect x="564" y="248" width="1" height="1" fill="#4caf50"/><rect x="565" y="250" width="1" height="3" fill="#4caf50"/><rect x="566" y="253" width="1" height="2" fill="#f23645"/><rect x="568" y="251" width="1" height="1" fill="#4caf50"/><rect x="569" y="248" width="1" height="1" fill="#4caf50"/><rect x="570" y="246" width="1" height="3" fill="#4caf50"/><rect x="571" y="242" width="1" height="6" fill="#f23645"/><rect x="573" y="241" width="1" height="5" fill="#4caf50"/><rect x="574" y="242" width="1" height="4" fill="#f23645"/><rect x="575" y="247" width="1" height="2" fill="#f23645"/><rect x="577" y="252" width="1" height="1" fill="#4caf50"/><rect x="578" y="250" width="1" height="5" fill="#f23645"/><rect x="579" y="255" width="1" height="2" fill="#f23645"/><rect x="581" y="253" width="1" height="6" fill="#4caf50"/><rect x="583" y="252" width="1" height="3" fill="#f23645"/><rect x="584" y="252" width="1" height="6" fill="#f23645"/><rect x="586" y="257" width="1" height="2" fill="#4caf50"/><rect x="587" y="256" width="1" height="3" fill="#f23645"/><rect x="588" y="259" width="1" height="3" fill="#f23645"/><rect x="596" y="267" width="1" height="1" fill="#4caf50"/><rect x="597" y="271" width="1" height="1" fill="#4caf50"/><rect x="598" y="272" width="1" height="2" fill="#4caf50"/><rect x="599" y="274" width="1" height="1" fill="#4caf50"/><rect x="600" y="277" width="1" height="1" fill="#4caf50"/><rect x="601" y="281" width="1" height="1" fill="#4caf50"/><rect x="602" y="282" width="1" height="2" fill="#4caf50"/><rect x="603" y="284" width="1" height="1" fill="#4caf50"/><rect x="604" y="288" width="1" height="1" fill="#4caf50"/><rect x="475" y="263" width="1" height="5" fill="#f23645"/><rect x="476" y="267" width="1" height="2" fill="#f23645"/><rect x="477" y="269" width="1" height="4" fill="#4caf50"/><rect x="478" y="269" width="1" height="7" fill="#f23645"/><rect x="480" y="270" width="1" height="6" fill="#4caf50"/><rect x="481" y="270" width="1" height="1" fill="#4caf50"/><rect x="482" y="267" width="1" height="1" fill="#4caf50"/><rect x="484" y="264" width="1" height="3" fill="#f23645"/><rect x="485" y="262" width="1" height="5" fill="#f23645"/><rect x="486" y="263" width="1" height="3" fill="#f23645"/><rect x="487" y="264" width="1" height="3" fill="#f23645"/><rect x="489" y="267" width="1" height="2" fill="#f23645"/><rect x="490" y="269" width="1" height="3" fill="#f23645"/><rect x="491" y="269" width="1" height="2" fill="#4caf50"/><rect x="493" y="267" width="1" height="5" fill="#4caf50"/><rect x="494" y="267" width="1" height="5" fill="#4caf50"/><rect x="495" y="266" width="1" height="6" fill="#f23645"/><rect x="497" y="272" width="1" height="2" fill="#4caf50"/><rect x="498" y="277" width="1" height="1" fill="#4caf50"/><rect x="499" y="274" width="1" height="6" fill="#f23645"/><rect x="502" y="275" width="1" height="4" fill="#f23645"/><rect x="503" y="277" width="1" height="5" fill="#f23645"/><rect x="504" y="277" width="1" height="2" fill="#4caf50"/><rect x="506" y="274" width="1" height="1" fill="#4caf50"/><rect x="507" y="271" width="1" height="1" fill="#4caf50"/><rect x="508" y="267" width="1" height="1" fill="#4caf50"/><rect x="509" y="264" width="1" height="4" fill="#4caf50"/><rect x="511" y="262" width="1" height="5" fill="#4caf50"/><rect x="513" y="263" width="1" height="7" fill="#4caf50"/><rect x="515" y="269" width="1" height="3" fill="#f23645"/><rect x="516" y="271" width="1" height="4" fill="#f23645"/><rect x="517" y="276" width="1" height="1" fill="#4caf50"/><rect x="519" y="274" width="1" height="6" fill="#f23645"/><rect x="520" y="280" width="1" height="2" fill="#f23645"/><rect x="521" y="280" width="1" height="5" fill="#4caf50"/><rect x="522" y="280" width="1" height="1" fill="#4caf50"/><rect x="524" y="277" width="1" height="2" fill="#4caf50"/><rect x="525" y="278" width="1" height="4" fill="#f23645"/><rect x="526" y="283" width="1" height="1" fill="#4caf50"/><rect x="528" y="280" width="1" height="1" fill="#4caf50"/><rect x="529" y="279" width="1" height="5" fill="#f23645"/><rect x="530" y="278" width="1" height="6" fill="#4caf50"/><rect x="533" y="275" width="1" height="5" fill="#f23645"/><rect x="534" y="276" width="1" height="6" fill="#f23645"/><rect x="535" y="281" width="1" height="2" fill="#f23645"/><rect x="537" y="279" width="1" height="1" fill="#4caf50"/><rect x="538" y="277" width="1" height="1" fill="#f23645"/><rect x="539" y="273" width="1" height="4" fill="#4caf50"/><rect x="540" y="271" width="1" height="1" fill="#4caf50"/><rect x="542" y="267" width="1" height="1" fill="#4caf50"/><rect x="543" y="265" width="1" height="6" fill="#f23645"/><rect x="544" y="264" width="1" height="4" fill="#4caf50"/>
</g>
</svg>
<div class="pl" style="top:4px">150,000</div><div class="pl" style="top:39px">110,000</div><div class="pl" style="top:74px">80,000</div><div class="pl" style="top:105px">60,000</div><div class="pl" style="top:138px">44,000</div><div class="pl" style="top:174px">32,000</div><div class="pl" style="top:205px">24,000</div><div class="pl" style="top:236px">18,000</div><div class="pl" style="top:281px">12,000</div><div class="pl" style="top:312px">9,000</div><div class="pl" style="top:348px">6,500</div><div class="pl" style="top:379px">4,900</div><div class="pl" style="top:410px">3,700</div><div class="pl" style="top:440px">2,800</div>
<div class="tl" style="left:272.4px">Jul</div><div class="tl" style="left:352.6px">7</div><div class="tl b" style="left:433.1px">2025</div><div class="tl" style="left:528.5px">May</div><div class="tl" style="left:623.2px">Sep</div><div class="tl b" style="left:734px">2026</div><div class="tl" style="left:816.9px">Apr</div><div class="tl" style="left:900.5px">Jul</div><div class="tl" style="left:986.3px">Oct</div><div class="tl b" style="left:1070px">2027</div><div class="tl" style="left:1154.3px">Apr</div>
<div class="tag price">11,500</div>
<div class="tag vol">275.298<span style="margin-left:2px">K</span></div>
<div class="fib" style="left:867px;top:101px">2</div>
<div class="fib" style="left:867px;top:142px">1.618</div>
</div></div>
<p class="ttl fa" style="top:27px;left:9px;font-size:16.28px">بیدار (اهرمی بیدار) / صندوق سرمایه گذاری قابل معامله</p>
<p class="ttl fa" style="top:66px;left:10px">روزانه / آخرین قیمت / بدون تعدیل</p>
<p class="ttl en" style="top:110px">1404/07/06 13:08</p>
<p class="ttl en" style="top:146px">amirRezaAmirian</p>
<div class="logo"><svg width="20" height="15" viewBox="0 0 36 28" preserveAspectRatio="none"><path fill="#131722" d="M14 22H7V11H0V4h14v18zM28 22h-8l7.5-18h8L28 22z"/><circle fill="#131722" cx="20" cy="8" r="4"/></svg><span>TradingView</span></div>
</body>
</html>
